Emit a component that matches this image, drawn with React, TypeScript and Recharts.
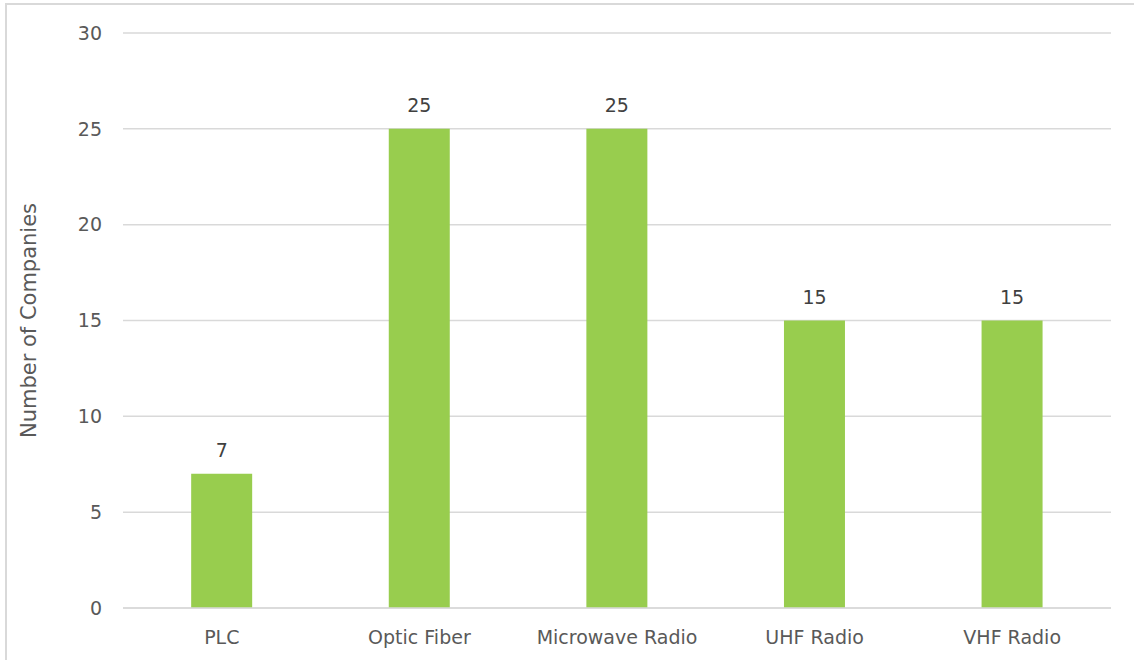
import { Bar, BarChart, CartesianGrid, LabelList, XAxis, YAxis } from "recharts"

const categories = ["PLC", "Optic Fiber", "Microwave Radio", "UHF Radio", "VHF Radio"]
const companies = [7, 25, 25, 15, 15]
const yTicks = [0, 5, 10, 15, 20, 25, 30]

const data = categories.map((name, i) => ({ name, value: companies[i] }))

const font = "'Century Gothic', 'DejaVu Sans', sans-serif"
const textColor = "#595959"

function YTitle(props: any) {
  const vb = props.viewBox || {}
  const cx = 29
  const cy = vb.y + vb.height / 2
  return (
    <text x={cx} y={cy} transform={`rotate(-90 ${cx} ${cy})`} textAnchor="middle" dominantBaseline="central" fill={textColor} fontSize={21} fontFamily={font}>
      Number of Companies
    </text>
  )
}

export default function App() {
  return (
    <div style={{ position: "absolute", left: 0, top: 0, width: 1134, height: 660, overflow: "hidden", background: "#fff" }}>
      <div style={{ position: "absolute", left: 5, top: 3, width: 1160, height: 700, border: "2px solid #d9d9d9", boxSizing: "border-box" }} />
      <BarChart width={1134} height={660} data={data} margin={{ top: 33, right: 23, bottom: 0, left: 0 }} barCategoryGap="34.5%" style={{ position: "absolute", left: 0, top: 0 }}>
        <CartesianGrid vertical={false} stroke="#d9d9d9" strokeWidth={1.5} />
        <XAxis dataKey="name" height={52} tickLine={false} axisLine={{ stroke: "#d9d9d9", strokeWidth: 1.5 }} tickMargin={17} tick={{ fill: textColor, fontSize: 19, fontFamily: font }} />
        <YAxis width={123} domain={[0, 30]} ticks={yTicks} tickLine={false} axisLine={false} tickSize={0} tickMargin={21} tick={{ fill: textColor, fontSize: 19, fontFamily: font }} label={<YTitle />} />
        <Bar dataKey="value" fill="#98cd4e" isAnimationActive={false}>
          <LabelList dataKey="value" position="top" offset={17} fill="#404040" fontSize={19} fontFamily={font} />
        </Bar>
      </BarChart>
    </div>
  )
}
